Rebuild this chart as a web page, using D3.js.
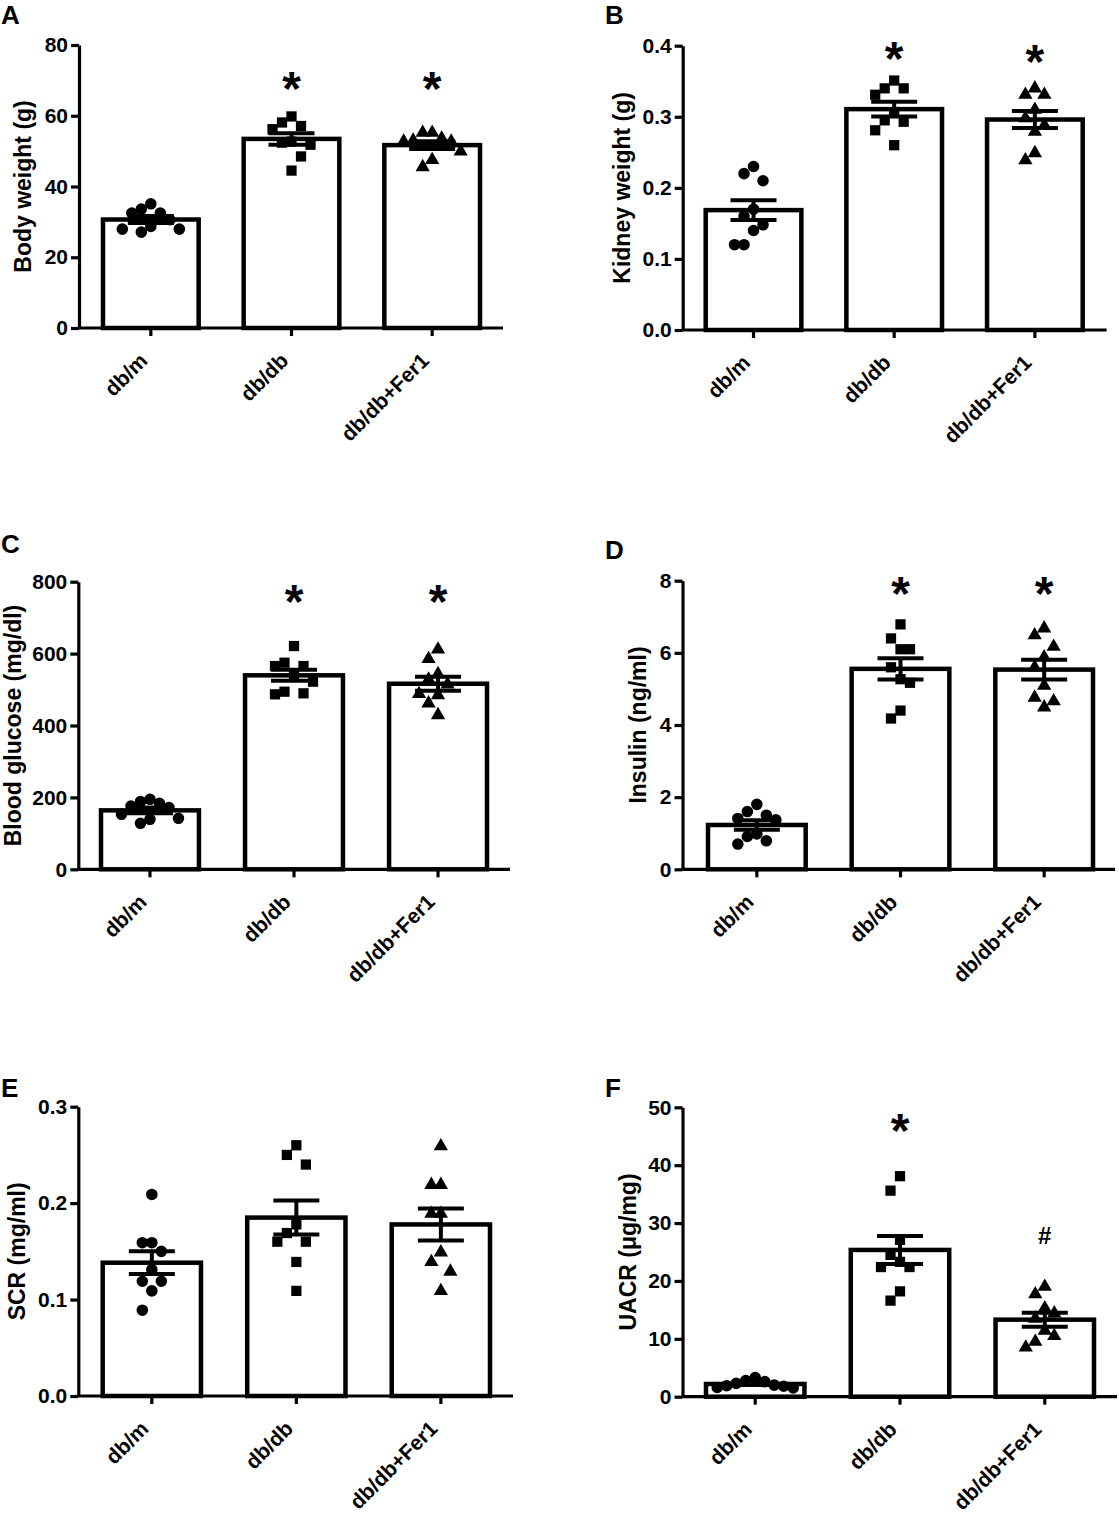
<!DOCTYPE html>
<html>
<head>
<meta charset="utf-8">
<title></title>
<style>
  body { margin: 0; background: #fff; }
  text { font-family: "Liberation Sans", Arial, sans-serif; font-weight: bold; fill: #000; }
</style>
</head>
<body>
<script src="https://cdn.jsdelivr.net/npm/d3@7/dist/d3.min.js"></script>
<script>
var width = 1119, height = 1514;

// groups and tick labels
var groups = ['db/m', 'db/db', 'db/db+Fer1'];

var bodyWeightTicks = [0, 20, 40, 60, 80];
var kidneyWeightTicks = [0, 0.1, 0.2, 0.3, 0.4];
var glucoseTicks = [0, 200, 400, 600, 800];
var insulinTicks = [0, 2, 4, 6, 8];
var scrTicks = [0, 0.1, 0.2, 0.3];
var uacrTicks = [0, 10, 20, 30, 40, 50];

// individual animals, one array per group (db/m, db/db, db/db+Fer1)
var bodyWeight = [
  [35.1, 30.6, 27.95, 32.5, 27.1, 32.5, 27.95, 33.6, 28.7],
  [56.2, 59.8, 52.4, 44.5, 57.1, 48.5, 58.1, 51.8, 52.7],
  [52.7, 53.0, 55.2, 45.5, 49.9, 55.2, 47.5, 52.7, 53.6]
];
var kidneyWeight = [
  [0.160, 0.230, 0.140, 0.210, 0.148, 0.120, 0.170, 0.220, 0.120],
  [0.340, 0.351, 0.340, 0.331, 0.306, 0.293, 0.295, 0.281, 0.260],
  [0.331, 0.340, 0.331, 0.310, 0.288, 0.298, 0.279, 0.239, 0.249]
];
var bloodGlucose = [
  [171.5, 141.8, 188.2, 127.9, 183.5, 139, 194.7, 153, 176],
  [621, 574.7, 565.4, 565.4, 537.6, 521.9, 494, 486.7, 489.5],
  [611.8, 585, 543, 528, 514.5, 487.6, 484.8, 461.6, 429]
];
var insulin = [
  [1.60, 1.80, 1.50, 1.41, 0.91, 0.70, 0.79, 0.98, 1.37],
  [6.79, 6.40, 6.10, 6.10, 5.60, 5.27, 5.17, 4.40, 4.18],
  [6.68, 6.49, 6.17, 5.88, 5.60, 5.09, 4.76, 4.66, 4.49]
];
var scr = [
  [0.209, 0.159, 0.159, 0.150, 0.131, 0.119, 0.119, 0.109, 0.089],
  [0.260, 0.250, 0.240, 0.178, 0.169, 0.160, 0.160, 0.139, 0.109],
  [0.259, 0.219, 0.219, 0.189, 0.189, 0.149, 0.139, 0.129, 0.109]
];
var uacr = [
  [3.3, 2.6, 2.0, 1.8, 1.5, 1.6, 1.9, 2.3, 2.8],
  [38.1, 35.6, 27.1, 24.5, 23.3, 22.4, 22.4, 18.2, 16.6],
  [19.0, 17.7, 15.3, 14.4, 13.5, 10.5, 11.4, 9.5, 8.5]
];

// significance marks
var bodyWeightMarks = ['', '*', '*'];
var kidneyWeightMarks = ['', '*', '*'];
var glucoseMarks = ['', '*', '*'];
var insulinMarks = ['', '*', '*'];
var scrMarks = ['', '', ''];
var uacrMarks = ['', '*', '#'];

var shapes = [d3.symbolCircle, d3.symbolSquare, d3.symbolTriangle];
var shapeSizes = [105, 105, 88];

var panels = [
  { letter: 'A', title: 'Body weight (g)', data: bodyWeight, ticks: bodyWeightTicks, fmt: d3.format('d'), marks: bodyWeightMarks, markAt: [0, 70, 70],
    left: 79, top: 45, bottom: 328, barStart: 103, barEnd: 480, axisEnd: 503, titleX: 31, lx: 1, ly: 24 },
  { letter: 'B', title: 'Kidney weight (g)', data: kidneyWeight, ticks: kidneyWeightTicks, fmt: d3.format('.1f'), marks: kidneyWeightMarks, markAt: [0, 0.394, 0.39],
    left: 682.7, top: 45.7, bottom: 330, barStart: 705.7, barEnd: 1082.7, axisEnd: 1106.7, titleX: 630, lx: 605, ly: 24 },
  { letter: 'C', title: 'Blood glucose (mg/dl)', data: bloodGlucose, ticks: glucoseTicks, fmt: d3.format('d'), marks: glucoseMarks, markAt: [0, 768, 768],
    left: 78.3, top: 581.7, bottom: 869.3, barStart: 101, barEnd: 487, axisEnd: 510, titleX: 21, lx: 1, ly: 553 },
  { letter: 'D', title: 'Insulin (ng/ml)', data: insulin, ticks: insulinTicks, fmt: d3.format('d'), marks: insulinMarks, markAt: [0, 7.88, 7.88],
    left: 682.5, top: 580.7, bottom: 869.3, barStart: 708, barEnd: 1093, axisEnd: 1115, titleX: 646, lx: 605, ly: 559 },
  { letter: 'E', title: 'SCR (mg/ml)', data: scr, ticks: scrTicks, fmt: d3.format('.1f'), marks: scrMarks, markAt: [0, 0, 0],
    left: 78.3, top: 1106.7, bottom: 1396, barStart: 102.7, barEnd: 490, axisEnd: 513, titleX: 25, lx: 1, ly: 1097 },
  { letter: 'F', title: 'UACR (\u03bcg/mg)', data: uacr, ticks: uacrTicks, fmt: d3.format('d'), marks: uacrMarks, markAt: [0, 47.5, 27.9],
    left: 682.5, top: 1107.3, bottom: 1396.7, barStart: 706, barEnd: 1094, axisEnd: 1117, titleX: 636, lx: 605, ly: 1097 }
];

var svg = d3.select('body').append('svg')
  .attr('width', width)
  .attr('height', height);

// GraphPad-like column scatter: points that would overlap move to side columns
function swarm(ys, step, minDist) {
  var order = d3.range(ys.length).sort(function(a, b) { return ys[a] - ys[b]; });
  var cols = new Array(ys.length);
  var placed = [];
  order.forEach(function(i) {
    for (var n = 0; n < 20; n++) {
      var k = n === 0 ? 0 : (n % 2 ? -Math.ceil(n / 2) : Math.ceil(n / 2));
      var hit = placed.some(function(p) { return p.k === k && Math.abs(p.y - ys[i]) < minDist; });
      if (!hit) { placed.push({ k: k, y: ys[i] }); cols[i] = k * step; break; }
    }
  });
  return cols;
}

panels.forEach(function(p) {
  var g = svg.append('g');
  var y = d3.scaleLinear().domain([p.ticks[0], p.ticks[p.ticks.length - 1]]).range([p.bottom, p.top]);
  var x = d3.scaleBand().domain(groups).range([p.barStart, p.barEnd]).paddingInner(0.32).paddingOuter(0);
  var bw = x.bandwidth();

  var stats = p.data.map(function(vals) {
    var m = d3.mean(vals);
    var sem = d3.deviation(vals) / Math.sqrt(vals.length);
    return { mean: m, sem: sem };
  });

  // bars
  g.selectAll('.bar').data(stats).enter().append('rect')
    .attr('class', 'bar')
    .attr('x', function(d, i) { return x(groups[i]); })
    .attr('y', function(d) { return y(d.mean); })
    .attr('width', bw)
    .attr('height', function(d) { return p.bottom - y(d.mean); })
    .attr('fill', '#fff')
    .attr('stroke', '#000')
    .attr('stroke-width', 4.5);

  // points
  p.data.forEach(function(vals, gi) {
    var ys = vals.map(function(v) { return y(v); });
    var offs = swarm(ys, 9.5, 20);
    var cx = x(groups[gi]) + bw / 2;
    g.selectAll('.pt' + gi).data(vals).enter().append('path')
      .attr('class', 'pt' + gi)
      .attr('d', d3.symbol().type(shapes[gi]).size(shapeSizes[gi]))
      .attr('transform', function(d, i) { return 'translate(' + (cx + offs[i]) + ',' + ys[i] + ')'; })
      .attr('fill', '#000');
  });

  // SEM error bars
  var eb = g.selectAll('.eb').data(stats).enter().append('g')
    .attr('transform', function(d, i) { return 'translate(' + (x(groups[i]) + bw / 2) + ',0)'; })
    .attr('stroke', '#000')
    .attr('stroke-width', 4);
  eb.append('line')
    .attr('y1', function(d) { return y(d.mean - d.sem); })
    .attr('y2', function(d) { return y(d.mean + d.sem); });
  eb.append('line').attr('x1', -23).attr('x2', 23)
    .attr('y1', function(d) { return y(d.mean + d.sem); })
    .attr('y2', function(d) { return y(d.mean + d.sem); });
  eb.append('line').attr('x1', -23).attr('x2', 23)
    .attr('y1', function(d) { return y(d.mean - d.sem); })
    .attr('y2', function(d) { return y(d.mean - d.sem); });

  // y axis
  var ya = g.append('g')
    .attr('transform', 'translate(' + p.left + ',0)')
    .call(d3.axisLeft(y).tickValues(p.ticks).tickFormat(p.fmt).tickSize(8).tickSizeOuter(0).tickPadding(3));
  ya.select('.domain').attr('stroke-width', 3.2);
  ya.selectAll('.tick line').attr('stroke-width', 3.2);
  ya.selectAll('.tick text').attr('font-size', 21).style('font-family', '"Liberation Sans", Arial, sans-serif').style('font-weight', 'bold');

  // x axis
  var xa = g.append('g')
    .attr('transform', 'translate(0,' + p.bottom + ')')
    .call(d3.axisBottom(x).tickSize(8).tickSizeOuter(0));
  xa.select('.domain').remove();
  xa.append('line').attr('x1', p.left).attr('x2', p.axisEnd).attr('stroke', '#000').attr('stroke-width', 3.2);
  xa.selectAll('.tick line').attr('stroke-width', 3.2);
  xa.selectAll('.tick text')
    .attr('font-size', 21)
    .style('font-family', '"Liberation Sans", Arial, sans-serif').style('font-weight', 'bold')
    .attr('text-anchor', 'end')
    .attr('x', 0).attr('y', 0).attr('dy', 0)
    .attr('transform', 'translate(-2,34) rotate(-45)');

  // axis title
  g.append('text')
    .attr('transform', 'translate(' + p.titleX + ',' + ((p.top + p.bottom) / 2) + ') rotate(-90)')
    .attr('text-anchor', 'middle')
    .attr('font-size', 23)
    .text(p.title);

  // significance marks
  g.selectAll('.mark').data(p.marks).enter().append('text')
    .attr('class', 'mark')
    .attr('x', function(d, i) { return x(groups[i]) + bw / 2; })
    .attr('y', function(d, i) { return y(p.markAt[i]); })
    .attr('dy', function(d) { return d === '*' ? 25 : 9; })
    .attr('text-anchor', 'middle')
    .attr('font-size', function(d) { return d === '*' ? 48 : 24; })
    .text(function(d) { return d; });

  // panel letter
  g.append('text')
    .attr('x', p.lx).attr('y', p.ly)
    .attr('font-size', 26)
    .text(p.letter);
});
</script>
</body>
</html>
